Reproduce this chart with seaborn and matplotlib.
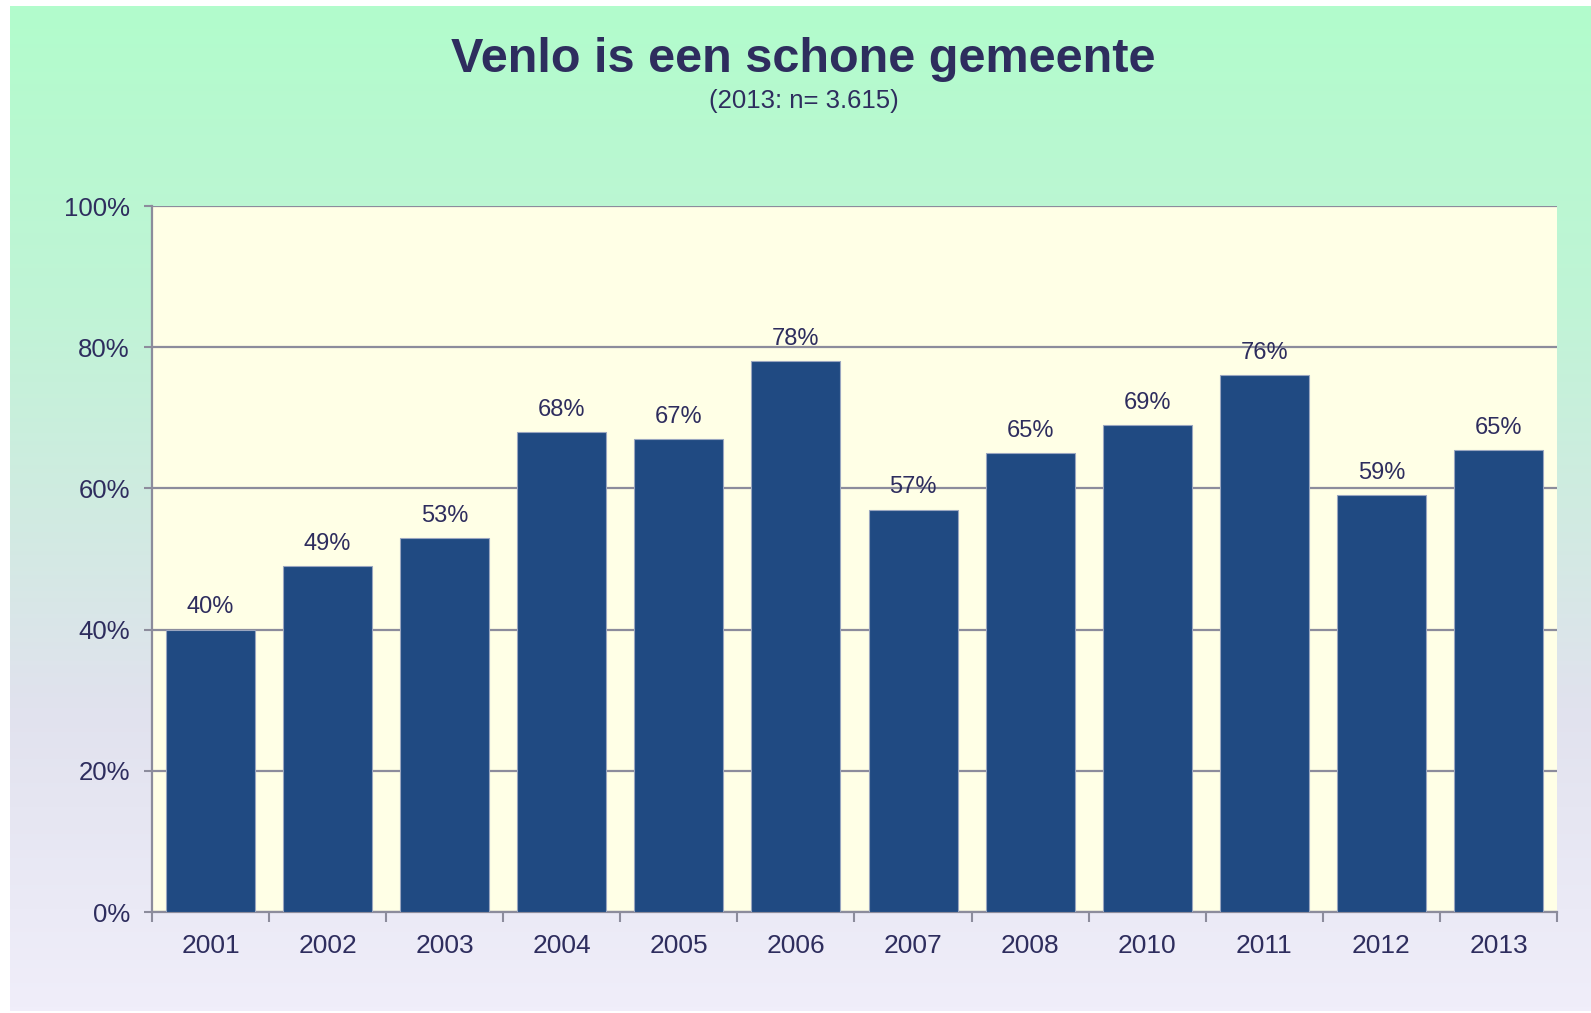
import numpy as np
import pandas as pd
import matplotlib
matplotlib.use("Agg")
import matplotlib.pyplot as plt
from matplotlib.colors import LinearSegmentedColormap
import seaborn as sns

years = ["2001", "2002", "2003", "2004", "2005", "2006", "2007", "2008", "2010", "2011", "2012", "2013"]
values = [40, 49, 53, 68, 67, 78, 57, 65, 69, 76, 59, 65.4]
labels = ["40%", "49%", "53%", "68%", "67%", "78%", "57%", "65%", "69%", "76%", "59%", "65%"]
yticks = [0, 20, 40, 60, 80, 100]
ytick_labels = ["0%", "20%", "40%", "60%", "80%", "100%"]
title = "Venlo is een schone gemeente"
subtitle = "(2013: n= 3.615)"

df = pd.DataFrame({"year": years, "value": values})

sns.set_theme(style="white")
plt.rcParams["font.family"] = ["Liberation Sans", "DejaVu Sans"]

TEXT = "#2E2D5E"
BAR = "#204A82"
GRID = "#8C8C9C"

fig = plt.figure(figsize=(15.91, 10.13), dpi=100)
fig.patch.set_facecolor("white")

# gradient background panel
bg = fig.add_axes([10 / 1591, 1 - 1011 / 1013, 1 - 10 / 1591, (1011 - 6) / 1013], zorder=0)
cmap = LinearSegmentedColormap.from_list(
    "bg",
    [(0.0, (178/255, 252/255, 204/255)),
     (0.3, (192/255, 244/255, 214/255)),
     (0.5, (208/255, 235/255, 225/255)),
     (0.7, (225/255, 226/255, 238/255)),
     (1.0, (240/255, 238/255, 250/255))])
grad = np.linspace(0, 1, 256).reshape(-1, 1)
bg.imshow(grad, aspect="auto", cmap=cmap, extent=[0, 1, 0, 1], origin="upper")
bg.set_axis_off()

ax = fig.add_axes([152 / 1591, 1 - 912 / 1013, (1557 - 152) / 1591, (912 - 206) / 1013], zorder=1)
ax.set_facecolor("#FFFFE6")

sns.barplot(data=df, x="year", y="value", color=BAR, saturation=1, width=0.76,
            edgecolor="#9AA6C0", linewidth=0.8, ax=ax, zorder=3)

ax.bar_label(ax.containers[0], labels=labels, padding=8, fontsize=17, color=TEXT)

ax.set_ylim(0, 100)
ax.set_xlim(-0.5, len(years) - 0.5)
ax.set_yticks(yticks)
ax.set_yticklabels(ytick_labels, fontsize=18.5, color=TEXT)
ax.set_xticks(range(len(years)))
ax.set_xticklabels(years, fontsize=19, color=TEXT)
ax.set_xlabel("")
ax.set_ylabel("")

ax.yaxis.grid(True, color=GRID, linewidth=1.6, zorder=1)
ax.set_axisbelow(True)

for s in ["top", "right"]:
    ax.spines[s].set_visible(False)
for s in ["left", "bottom"]:
    ax.spines[s].set_color(GRID)
    ax.spines[s].set_linewidth(1.6)

ax.tick_params(axis="y", which="major", left=True, length=6, width=1.5, color=GRID, pad=10)
ax.tick_params(axis="x", which="major", bottom=False, pad=10)
# x ticks at category boundaries
ax.set_xticks(np.arange(-0.5, len(years), 1), minor=True)
ax.tick_params(axis="x", which="minor", bottom=True, length=7, width=1.5, color=GRID, direction="out")

fig.text(0.505, 1 - 60 / 1013, title, ha="center", va="center", fontsize=35,
         fontweight="bold", color=TEXT)
fig.text(0.505, 1 - 101 / 1013, subtitle, ha="center", va="center", fontsize=18.5, color=TEXT)

fig.savefig("out.png", dpi=100, facecolor=fig.get_facecolor())
